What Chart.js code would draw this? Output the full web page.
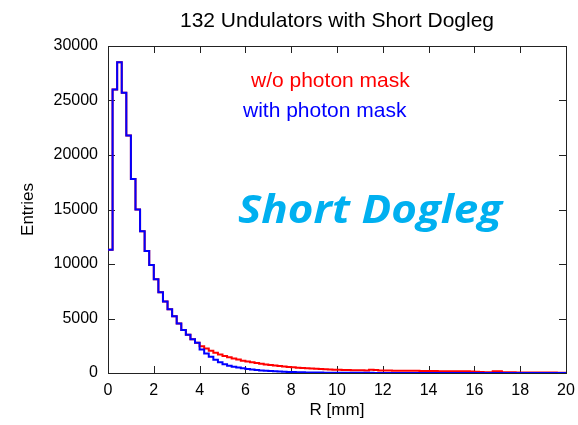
<!DOCTYPE html>
<html>
<head>
<meta charset="utf-8">
<title>132 Undulators with Short Dogleg</title>
<script src="https://cdn.jsdelivr.net/npm/chart.js@4.4.1/dist/chart.umd.min.js"></script>
<style>
  html, body { margin: 0; padding: 0; background: #fff; }
  #wrap { width: 578px; height: 425px; position: relative; }
</style>
</head>
<body>
<div id="wrap"><canvas id="hist"></canvas></div>
<script>
/* ── Data ─────────────────────────────────────────────────────────── */
var BIN_WIDTH = 0.2;   // mm, 100 bins from 0 to 20 mm

var TITLE = "132 Undulators with Short Dogleg";
var LABEL_NO_MASK = "w/o photon mask";
var LABEL_MASK = "with photon mask";
var STAMP = "Short Dogleg";

var X_TICKS = [0, 2, 4, 6, 8, 10, 12, 14, 16, 18, 20];
var Y_TICKS = [0, 5000, 10000, 15000, 20000, 25000, 30000];

// entries per bin, without photon mask (red)
var NO_MASK = [
  11300, 26000, 28500, 25700, 21800, 17800, 15000, 13000, 11200, 9900,
  8600, 7400, 6550, 5850, 5200, 4550, 3950, 3500, 3100, 2780,
  2450, 2250, 2050, 1850, 1700, 1560, 1440, 1330, 1230, 1130,
  1050, 980, 910, 850, 790, 740, 690, 640, 600, 560,
  520, 490, 460, 430, 410, 380, 360, 340, 320, 305,
  290, 280, 270, 260, 250, 245, 240, 290, 280, 230,
  225, 220, 215, 210, 205, 200, 200, 195, 190, 185,
  180, 175, 170, 170, 165, 160, 160, 155, 150, 145,
  120, 90, 80, 80, 150, 150, 70, 60, 60, 55,
  50, 50, 45, 45, 40, 40, 35, 35, 30, 30
];

// entries per bin, with photon mask (blue)
var WITH_MASK = [
  11300, 26000, 28500, 25700, 21800, 17800, 15000, 13000, 11200, 9900,
  8600, 7400, 6550, 5850, 5200, 4550, 3950, 3500, 3100, 2780,
  2150, 1800, 1500, 1220, 980, 800, 670, 580, 500, 430,
  370, 320, 280, 240, 210, 180, 150, 130, 110, 95,
  82, 72, 63, 55, 48, 42, 37, 33, 29, 26,
  23, 21, 19, 17, 15, 14, 13, 12, 11, 10,
  9, 9, 8, 8, 7, 7, 6, 6, 6, 5,
  5, 5, 5, 4, 4, 4, 4, 4, 3, 3,
  3, 3, 3, 3, 3, 2, 2, 2, 2, 2,
  2, 2, 2, 1, 1, 1, 1, 1, 1, 1
];

(function () {
  "use strict";

  var FONT = "'Liberation Sans', Arial, Helvetica, sans-serif";
  var FRAME = "#222";

  /* ── Helpers ───────────────────────────────────────────────────── */
  // left bin edges + closing point so the step reaches x = 20
  function toSteps(values) {
    var pts = values.map(function (v, i) {
      return { x: +(i * BIN_WIDTH).toFixed(1), y: v };
    });
    pts.push({ x: +(values.length * BIN_WIDTH).toFixed(1), y: values[values.length - 1] });
    return pts;
  }

  /* ── Frame with inward ticks ───────────────────────────────────── */
  var framePlugin = {
    id: "frame",
    beforeDatasetsDraw: function (chart) {
      var a = chart.chartArea;
      var ctx = chart.ctx;
      var len = 7;
      ctx.save();
      ctx.strokeStyle = FRAME;
      ctx.lineWidth = 1;
      ctx.beginPath();
      chart.scales.x.ticks.forEach(function (t) {
        var px = Math.round(chart.scales.x.getPixelForValue(t.value)) + 0.5;
        ctx.moveTo(px, a.top); ctx.lineTo(px, a.top + len);
        ctx.moveTo(px, a.bottom); ctx.lineTo(px, a.bottom - len);
      });
      chart.scales.y.ticks.forEach(function (t) {
        var py = Math.round(chart.scales.y.getPixelForValue(t.value)) + 0.5;
        ctx.moveTo(a.left, py); ctx.lineTo(a.left + len, py);
        ctx.moveTo(a.right, py); ctx.lineTo(a.right - len, py);
      });
      ctx.stroke();
      ctx.strokeRect(Math.round(a.left) + 0.5, Math.round(a.top) + 0.5,
        Math.round(a.right - a.left), Math.round(a.bottom - a.top));
      ctx.restore();
    }
  };

  /* ── Title and text labels ─────────────────────────────────────── */
  var notesPlugin = {
    id: "notes",
    afterDraw: function (chart) {
      var a = chart.chartArea;
      var ctx = chart.ctx;
      ctx.save();
      ctx.textBaseline = "middle";
      ctx.textAlign = "center";
      ctx.font = "21px " + FONT;
      ctx.fillStyle = "#000";
      ctx.fillText(TITLE, (a.left + a.right) / 2, 21);

      ctx.textBaseline = "alphabetic";
      ctx.textAlign = "left";
      ctx.fillStyle = "#ff0000";
      ctx.fillText(LABEL_NO_MASK, 251, 87);
      ctx.fillStyle = "#0000ff";
      ctx.fillText(LABEL_MASK, 243, 117);

      ctx.font = "italic bold 40px 'Open Sans', 'Noto Sans', sans-serif";
      ctx.fillStyle = "#00b0f0";
      var w = ctx.measureText(STAMP).width;
      ctx.save();
      ctx.translate(238, 223);
      ctx.scale(264 / w, 1);
      ctx.fillText(STAMP, 0, 0);
      ctx.restore();
      ctx.restore();
    }
  };

  /* ── Chart ─────────────────────────────────────────────────────── */
  var ctx = document.getElementById("hist").getContext("2d");

  new Chart(ctx, {
    type: "line",
    data: {
      datasets: [
        {
          label: LABEL_MASK,
          data: toSteps(WITH_MASK),
          borderColor: "#0000ff",
          borderWidth: 2,
          stepped: true,
          pointRadius: 0,
          fill: false,
          order: 0,
        },
        {
          label: LABEL_NO_MASK,
          data: toSteps(NO_MASK),
          borderColor: "#ff0000",
          borderWidth: 2,
          stepped: true,
          pointRadius: 0,
          fill: false,
          order: 1,
        },
      ],
    },
    options: {
      responsive: true,
      maintainAspectRatio: false,
      animation: false,
      layout: { padding: { left: 0, right: 12, top: 46, bottom: 0 } },
      plugins: {
        legend: { display: false },
        tooltip: { enabled: false },
        title: { display: false },
      },
      scales: {
        x: {
          type: "linear",
          min: 0,
          max: 20,
          afterBuildTicks: function (s) {
            s.ticks = X_TICKS.map(function (v) { return { value: v }; });
          },
          afterFit: function (s) {
            s.height = 52;
            s.paddingLeft = 0;
            s.paddingRight = 0;
          },
          grid: { display: false, drawTicks: false },
          border: { display: false },
          ticks: {
            color: "#000",
            padding: 8,
            maxRotation: 0,
            font: { family: FONT, size: 16 },
            callback: function (v) { return String(v); },
          },
          title: {
            display: true,
            text: "R [mm]",
            color: "#000",
            font: { family: FONT, size: 17 },
            padding: { top: 0, bottom: 4 },
          },
        },
        y: {
          type: "linear",
          min: 0,
          max: 30000,
          afterBuildTicks: function (s) {
            s.ticks = Y_TICKS.map(function (v) { return { value: v }; });
          },
          afterFit: function (s) {
            s.width = 108;
            s.paddingTop = 0;
            s.paddingBottom = 0;
          },
          grid: { display: false, drawTicks: false },
          border: { display: false },
          ticks: {
            color: "#000",
            padding: 10,
            font: { family: FONT, size: 16 },
            callback: function (v) { return String(v); },
          },
          title: {
            display: true,
            text: "Entries",
            color: "#000",
            font: { family: FONT, size: 17 },
            padding: { top: 18, bottom: 0 },
          },
        },
      },
    },
    plugins: [framePlugin, notesPlugin],
  });
})();
</script>
</body>
</html>
